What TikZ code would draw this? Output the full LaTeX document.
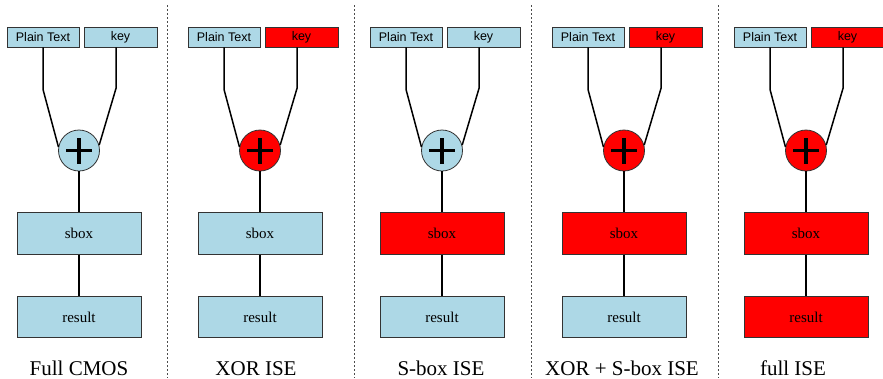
\documentclass[tikz,border=0pt]{standalone}
\usepackage{fontspec}
\setmainfont{Liberation Serif}
\newfontfamily\labelsans{Liberation Sans}
\definecolor{cellblue}{RGB}{173,216,230}
\definecolor{cellred}{RGB}{255,0,0}
\tikzset{
  inbox/.style={draw=black!80, line width=0.8pt, minimum height=20pt,
    inner sep=0pt, font=\labelsans\fontsize{12.5}{14}\selectfont},
  stagebox/.style={draw=black!80, line width=0.8pt, minimum width=124pt,
    minimum height=41.5pt, inner sep=0pt, font=\fontsize{15}{17}\selectfont},
  xorgate/.style={circle, draw=black!80, line width=0.8pt, minimum size=41pt,
    inner sep=0pt},
  wire/.style={line width=1.5pt, black},
  plus/.style={line width=3.5pt, black},
  divider/.style={line width=1pt, dash pattern=on 2pt off 2pt, black!70},
  caption/.style={anchor=base, inner sep=0pt, font=\fontsize{21}{24}\selectfont}
}
\begin{document}
\begin{tikzpicture}[x=1pt, y=-1pt]
  \useasboundingbox (0,0) rectangle (883,378);
  % panel separators
  \foreach \dx in {167,354,531,718}
    \draw[divider] (\dx,5) -- (\dx,378);
  % one column per implementation variant:
  % index / x offset / plain text / key / xor / sbox / result colours / caption / caption x
  \foreach \i/\ox/\pc/\kc/\xc/\sc/\rc/\cap/\cx in {
      0/0/cellblue/cellblue/cellblue/cellblue/cellblue/Full CMOS/79,
      1/181/cellblue/cellred/cellred/cellblue/cellblue/XOR ISE/256,
      2/363/cellblue/cellblue/cellblue/cellred/cellblue/S-box ISE/441,
      3/545/cellblue/cellred/cellred/cellred/cellblue/XOR + S-box ISE/622,
      4/727/cellblue/cellred/cellred/cellred/cellred/full ISE/793} {
    \node[inbox, fill=\pc, minimum width=72pt] (pt\i) at ({\ox+43},37) {Plain Text};
    \node[inbox, fill=\kc, minimum width=73pt] (key\i) at ({\ox+120.5},37) {key};
    \node[xorgate, fill=\xc] (xor\i) at ({\ox+79},150.5) {};
    \node[stagebox, fill=\sc] (sb\i) at ({\ox+79},233.5) {sbox};
    \node[stagebox, fill=\rc] (res\i) at ({\ox+79},317) {result};
    \node[caption] (cap\i) at (\cx,375) {\cap};
    % inputs into the xor gate
    \draw[wire] (pt\i.south) -- ++(0pt,-42pt) -- (xor\i.170);
    \draw[wire] ([xshift=-4.5pt]key\i.south) -- ++(0pt,-41pt) -- (xor\i.15);
    % xor symbol
    \draw[plus] ([xshift=-13pt]xor\i.center) -- ([xshift=13pt]xor\i.center);
    \draw[plus] ([yshift=-13pt]xor\i.center) -- ([yshift=13pt]xor\i.center);
    % datapath
    \draw[wire] (xor\i) -- (sb\i);
    \draw[wire] (sb\i) -- (res\i);
  }
\end{tikzpicture}
\end{document}
